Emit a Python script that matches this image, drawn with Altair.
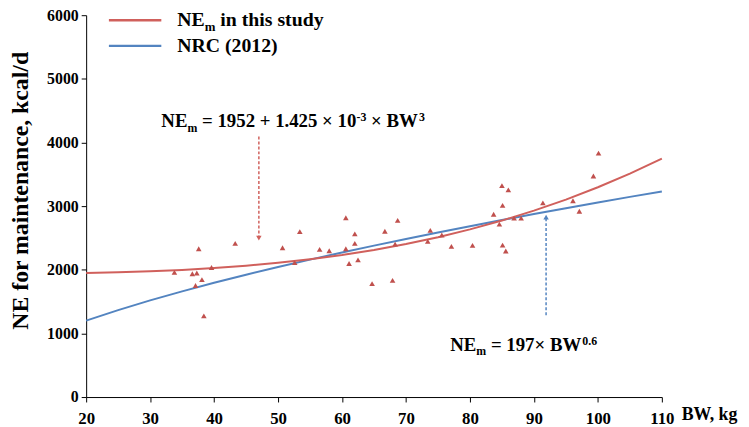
import altair as alt
import pandas as pd

# Observed points (BW, kg ; NE for maintenance, kcal/d)
bw_obs = [33.8, 36.6, 37.3, 37.6, 38.1, 37.1, 38.4, 39.6, 43.3, 50.7, 52.6, 53.4, 56.5,
          58.0, 60.6, 60.6, 61.1, 62.0, 62.0, 62.5, 64.7, 66.7, 67.9, 68.3, 68.7,
          73.4, 73.8, 75.6, 77.1, 80.4, 83.7, 84.6, 85.0, 86.0, 85.1, 85.1, 85.6,
          86.9, 88.0, 91.4, 96.1, 97.1, 99.3, 100.1]
ne_obs = [1958, 1938, 1949, 2330, 1845, 1752, 1276, 2036, 2414, 2346, 2113, 2600, 2321,
          2299, 2817, 2330, 2098, 2563, 2414, 2155, 1783, 2605, 1834, 2403, 2775,
          2445, 2620, 2547, 2367, 2383, 2873, 2718, 3322, 3256, 3012, 2388, 2295,
          2811, 2811, 3050, 3085, 2919, 3473, 3834]

# Curves
curve_bw = [20, 25, 30, 35, 40, 45, 50, 55, 60, 65, 70, 75, 80, 85, 90, 95, 100, 105, 110]
study_ne = [1950, 1960, 1976, 1997, 2026, 2063, 2109, 2165, 2232, 2312, 2405, 2512,
            2634, 2773, 2929, 3103, 3297, 3511, 3747]
nrc_ne = [1200, 1366, 1519, 1661, 1795, 1922, 2044, 2159, 2272, 2379, 2484, 2585,
          2685, 2781, 2875, 2968, 3058, 3145, 3229]

# Annotation arrows
arrow_bw = [47.0, 91.9]
arrow_from = [4093, 1287]
arrow_to = [2496, 2826]

x_ticks = [20, 30, 40, 50, 60, 70, 80, 90, 100, 110]
y_ticks = [0, 1000, 2000, 3000, 4000, 5000, 6000]

RED = "#c0504d"
RED_LINE = "#d0605c"
BLUE_LINE = "#5384c0"
FONT = "Liberation Serif, Times New Roman, serif"

PL, PT = 87, 13  # page position of plot-area origin

obs = pd.DataFrame({"bw": bw_obs, "ne": ne_obs})
curves = pd.DataFrame({"bw": curve_bw, "study": study_ne, "nrc": nrc_ne})
arrows = pd.DataFrame({"bw": arrow_bw, "y1": arrow_from, "y2": arrow_to,
                       "c": ["red", "blue"]})

xscale = alt.Scale(domain=[20, 110], nice=False, zero=False)
yscale = alt.Scale(domain=[0, 6000], nice=False)

xaxis = alt.Axis(values=x_ticks, title=None, grid=False, labelFlush=False,
                 labelOverlap=False, tickSize=5, labelPadding=9, format="d",
                 labelFont=FONT, labelFontSize=17, labelFontWeight="bold",
                 labelColor="black", domainColor="black", tickColor="black")
yaxis = alt.Axis(values=y_ticks, title="NE for maintenance, kcal/d", grid=False,
                 tickSize=5, labelPadding=3, format="d", labelFont=FONT,
                 labelFontSize=16, labelFontWeight="bold", labelColor="black",
                 domainColor="black", tickColor="black", titleFont=FONT,
                 titleFontSize=24, titleFontWeight="bold", titleColor="black",
                 titleAngle=270, titleX=21 - PL, titleY=190 - PT,
                 titleAlign="center", titleBaseline="middle")


def X(field):
    return alt.X(f"{field}:Q", scale=xscale, axis=xaxis)


def Y(field):
    return alt.Y(f"{field}:Q", scale=yscale, axis=yaxis)


one = pd.DataFrame({"k": [0]})


def txt(s, px, py, size, color="black"):
    # px, py: page pixel positions -> plot-area offsets
    return alt.Chart(one).mark_text(
        text=s, align="left", baseline="alphabetic", font=FONT,
        fontSize=size, fontWeight="bold", color=color
    ).encode(x=alt.value(px - PL), y=alt.value(py - PT))


def hline(px1, px2, py, color):
    return alt.Chart(one).mark_rule(color=color, strokeWidth=2.5).encode(
        x=alt.value(px1 - PL), x2=alt.value(px2 - PL), y=alt.value(py - PT))


study_line = alt.Chart(curves).mark_line(color=RED_LINE, strokeWidth=2).encode(
    x=X("bw"), y=Y("study"))
nrc_line = alt.Chart(curves).mark_line(color=BLUE_LINE, strokeWidth=2).encode(
    x=X("bw"), y=Y("nrc"))
points = alt.Chart(obs).mark_point(shape="triangle-up", filled=True, color=RED,
                                   size=32, opacity=1).encode(x=X("bw"), y=Y("ne"))

red_arrow = alt.Chart(arrows[arrows.c == "red"]).mark_rule(
    color=RED_LINE, strokeWidth=1.5, strokeDash=[3, 2]).encode(
    x=X("bw"), y=Y("y1"), y2="y2:Q")
red_head = alt.Chart(arrows[arrows.c == "red"]).mark_point(
    shape="triangle-down", filled=True, color=RED_LINE, size=30, opacity=1).encode(
    x=X("bw"), y=Y("y2"))
blue_arrow = alt.Chart(arrows[arrows.c == "blue"]).mark_rule(
    color=BLUE_LINE, strokeWidth=1.5, strokeDash=[3, 2]).encode(
    x=X("bw"), y=Y("y1"), y2="y2:Q")
blue_head = alt.Chart(arrows[arrows.c == "blue"]).mark_point(
    shape="triangle-up", filled=True, color=BLUE_LINE, size=30, opacity=1).encode(
    x=X("bw"), y=Y("y2"))

# Legend (drawn manually)
legend = [
    hline(110, 163, 18, RED_LINE),
    txt("NE", 179, 24, 20),
    txt("m", 206.8, 29, 13),
    txt("in this study", 222.6, 24, 20),
    hline(110, 163, 44, BLUE_LINE),
    txt("NRC (2012)", 179, 50, 20),
]

# Formula 1
f1 = [
    txt("NE", 163, 126, 19),
    txt("m", 189.4, 131, 12),
    txt("= 1952 + 1.425 × 10", 204.2, 126, 19),
    txt("-3", 360.3, 120, 12),
    txt("× BW", 375.0, 126, 19),
    txt("3", 423.5, 120, 12),
]

# Formula 2
f2 = [
    txt("NE", 455, 352, 19),
    txt("m", 481.4, 357, 12),
    txt("= 197×", 496.2, 352, 19),
    txt("BW", 556.0, 352, 19),
    txt("0.6", 588.5, 346, 12),
]

xtitle = [txt("BW, kg", 689, 422, 18)]

chart = alt.layer(
    nrc_line, study_line, points, red_arrow, red_head, blue_arrow, blue_head,
    *legend, *f1, *f2, *xtitle
).properties(
    width=582, height=386,
    autosize=alt.AutoSizeParams(type="none"),
    padding={"left": PL - 8, "top": PT - 8, "right": 80, "bottom": 28},
    background="white",
).configure_view(stroke=None)

chart.save("out.html", embed_options={"renderer": "svg", "actions": False})
